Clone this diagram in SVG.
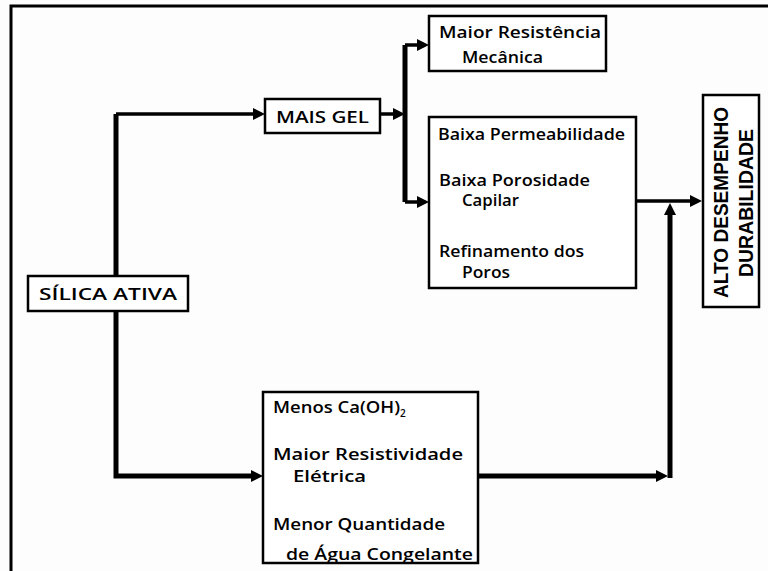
<svg xmlns="http://www.w3.org/2000/svg" width="768" height="571" viewBox="0 0 768 571">
<style>
  .box { fill: #ffffff; stroke: #000000; stroke-width: 2.5; }
  .t { font-family: "Comic Sans MS", "Open Sans", "DejaVu Sans", sans-serif; font-weight: 600; font-size: 16px; fill: #000000; }
  .v { font-family: "Liberation Sans", Arial, sans-serif; font-weight: bold; font-size: 21px; fill: #000000; }
  .thick { fill: none; stroke: #000000; stroke-width: 5; }
  .thin { fill: none; stroke: #000000; stroke-width: 3.5; }
</style>
<defs>
  <marker id="arr" viewBox="0 0 12 12" refX="4" refY="6" markerWidth="12" markerHeight="12" markerUnits="userSpaceOnUse" orient="auto">
    <path d="M0,0 L12,6 L0,12 Z" fill="#000000"/>
  </marker>
</defs>
<rect x="0" y="0" width="768" height="571" fill="#fdfdfd"/>
<rect id="frame" x="11" y="6" width="780" height="600" fill="none" stroke="#000000" stroke-width="3"/>

<g id="connectors">
  <path class="thick" d="M116,277 V114" />
  <path class="thin" d="M116,114 H257" marker-end="url(#arr)"/>
  <path class="thick" d="M116,311 V476 H255" marker-end="url(#arr)"/>
  <path class="thin" d="M380,114 H397" marker-end="url(#arr)"/>
  <path class="thick" d="M405,45 V202" />
  <path class="thin" d="M405,45 H421" marker-end="url(#arr)"/>
  <path class="thin" d="M405,202 H421" marker-end="url(#arr)"/>
  <path class="thin" d="M636,201 H694" marker-end="url(#arr)"/>
  <path class="thick" d="M478,476 H660" marker-end="url(#arr)"/>
  <path class="thick" d="M670,478 V211" marker-end="url(#arr)"/>
</g>

<g id="silica">
  <rect class="box" x="28" y="276" width="160" height="35"/>
  <text class="t" x="39" y="300" textLength="138" lengthAdjust="spacingAndGlyphs">SÍLICA ATIVA</text>
</g>

<g id="maisgel">
  <rect class="box" x="265" y="99" width="115" height="34"/>
  <text class="t" x="276" y="123" textLength="93" lengthAdjust="spacingAndGlyphs">MAIS GEL</text>
</g>

<g id="resistencia">
  <rect class="box" x="429" y="16" width="177" height="55"/>
  <text class="t" x="439" y="38" textLength="162" lengthAdjust="spacingAndGlyphs">Maior Resistência</text>
  <text class="t" x="462" y="63" textLength="81" lengthAdjust="spacingAndGlyphs">Mecânica</text>
</g>

<g id="permeabilidade">
  <rect class="box" x="429" y="117" width="207" height="171"/>
  <text class="t" x="438" y="140" textLength="187" lengthAdjust="spacingAndGlyphs">Baixa Permeabilidade</text>
  <text class="t" x="439" y="186" textLength="151" lengthAdjust="spacingAndGlyphs">Baixa Porosidade</text>
  <text class="t" x="462" y="206" textLength="57" lengthAdjust="spacingAndGlyphs">Capilar</text>
  <text class="t" x="439" y="257" textLength="145" lengthAdjust="spacingAndGlyphs">Refinamento dos</text>
  <text class="t" x="462" y="278" textLength="48" lengthAdjust="spacingAndGlyphs">Poros</text>
</g>

<g id="caoh">
  <rect class="box" x="263" y="392" width="215" height="171"/>
  <text class="t" x="273" y="413"><tspan textLength="127" lengthAdjust="spacingAndGlyphs">Menos Ca(OH)</tspan><tspan font-size="10" dy="4">2</tspan></text>
  <text class="t" x="273" y="460" textLength="190" lengthAdjust="spacingAndGlyphs">Maior Resistividade</text>
  <text class="t" x="293" y="482" textLength="73" lengthAdjust="spacingAndGlyphs">Elétrica</text>
  <text class="t" x="273" y="530" textLength="172" lengthAdjust="spacingAndGlyphs">Menor Quantidade</text>
  <text class="t" x="286" y="560" textLength="187" lengthAdjust="spacingAndGlyphs">de Água Congelante</text>
</g>

<g id="alto">
  <rect class="box" x="703" y="95" width="56" height="212"/>
  <text class="v" transform="translate(728,298) rotate(-90)" textLength="191" lengthAdjust="spacingAndGlyphs">ALTO DESEMPENHO</text>
  <text class="v" transform="translate(753,277) rotate(-90)" textLength="148" lengthAdjust="spacingAndGlyphs">DURABILIDADE</text>
</g>
</svg>
